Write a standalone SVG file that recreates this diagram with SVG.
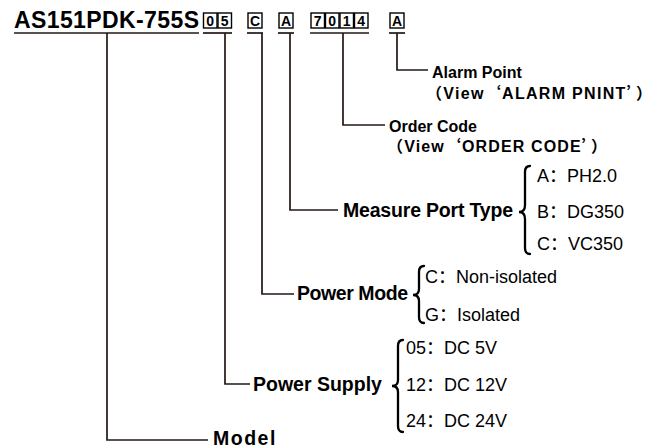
<svg xmlns="http://www.w3.org/2000/svg" width="667" height="448" viewBox="0 0 667 448">
<style>
.t{font-family:"Liberation Sans","Noto Sans CJK SC",Arial,sans-serif;fill:#000}
.b{font-weight:bold}
.lab{font-size:19.5px;font-weight:bold}
.sm{font-size:16px;font-weight:bold}
.opt{font-size:18px}
.cj{font-family:"Noto Sans CJK SC",sans-serif}
.ln{stroke:#231815;stroke-width:1.7;fill:none}
.br{stroke:#000;stroke-width:2.3;fill:none;stroke-linecap:round}
.bx{fill:#fff;stroke:#000;stroke-width:1.4}
.bt{font-family:"Liberation Sans",Arial,sans-serif;font-size:14px;font-weight:bold;text-anchor:middle}
</style>
<rect width="667" height="448" fill="#fff"/>
<g id="title">
<text class="t b" x="14" y="28" font-size="23" textLength="185">AS151PDK-755S</text>
<line class="ln" x1="14" y1="33" x2="199" y2="33"/>
</g>
<g id="code-boxes">
<rect class="bx" x="203.5" y="13" width="13.5" height="15"/><text class="t bt" x="210.25" y="26">0</text>
<rect class="bx" x="218" y="13" width="13.5" height="15"/><text class="t bt" x="224.75" y="26">5</text>
<rect class="bx" x="248" y="13" width="14" height="15"/><text class="t bt" x="255" y="26">C</text>
<rect class="bx" x="279" y="13" width="14" height="15"/><text class="t bt" x="286" y="26">A</text>
<rect class="bx" x="311" y="13" width="13.5" height="15"/><text class="t bt" x="317.75" y="26">7</text>
<rect class="bx" x="325.5" y="13" width="13.5" height="15"/><text class="t bt" x="332.25" y="26">0</text>
<rect class="bx" x="340" y="13" width="13.5" height="15"/><text class="t bt" x="346.75" y="26">1</text>
<rect class="bx" x="354.5" y="13" width="13.5" height="15"/><text class="t bt" x="361.25" y="26">4</text>
<rect class="bx" x="390" y="13" width="14" height="15"/><text class="t bt" x="397" y="26">A</text>
<line class="ln" x1="203" y1="33" x2="232" y2="33"/>
<line class="ln" x1="247" y1="33" x2="263" y2="33"/>
<line class="ln" x1="278" y1="33" x2="294" y2="33"/>
<line class="ln" x1="310" y1="33" x2="369" y2="33"/>
<line class="ln" x1="389" y1="33" x2="405" y2="33"/>
</g>
<g id="connectors">
<polyline class="ln" points="397,33 397,70 428,70"/>
<polyline class="ln" points="343,33 343,125 385,125"/>
<polyline class="ln" points="290,33 290,210 338,210"/>
<polyline class="ln" points="262,33 262,294 294,294"/>
<polyline class="ln" points="225,33 225,384 250,384"/>
<polyline class="ln" points="107,33 107,440 208,440"/>
</g>
<g id="alarm-point">
<text class="t sm" x="432" y="78">Alarm Point</text>
<text class="t sm" x="426" y="99" textLength="226">（View<tspan class="cj">‘</tspan>ALARM  PNINT<tspan class="cj">’</tspan>）</text>
</g>
<g id="order-code">
<text class="t sm" x="389" y="132">Order Code</text>
<text class="t sm" x="387" y="152" textLength="220">（View<tspan class="cj">‘</tspan>ORDER CODE<tspan class="cj">’</tspan>）</text>
</g>
<g id="measure-port-type">
<text class="t lab" x="343" y="217" textLength="170">Measure Port Type</text>
<path class="br" d="M530,166 Q525,166 525,172 L525,205 Q525,212 519,212 Q525,212 525,219 L525,248 Q525,254 530,254"/>
<text class="t opt" x="537" y="182">A<tspan class="cj">：</tspan>PH2.0</text>
<text class="t opt" x="537" y="218">B<tspan class="cj">：</tspan>DG350</text>
<text class="t opt" x="537" y="250">C<tspan class="cj">：</tspan>VC350</text>
</g>
<g id="power-mode">
<text class="t lab" x="297" y="300" textLength="111">Power Mode</text>
<path class="br" d="M424,266 Q419,266 419,272 L419,289 Q419,295 413,295 Q419,295 419,301 L419,317 Q419,323 424,323"/>
<text class="t opt" x="425" y="283">C<tspan class="cj">：</tspan>Non-isolated</text>
<text class="t opt" x="425" y="321">G<tspan class="cj">：</tspan>Isolated</text>
</g>
<g id="power-supply">
<text class="t lab" x="253" y="391">Power Supply</text>
<path class="br" d="M403,340 Q398,340 398,346 L398,380 Q398,386 392,386 Q398,386 398,392 L398,426 Q398,432 403,432"/>
<text class="t opt" x="406" y="354">05<tspan class="cj">：</tspan>DC 5V</text>
<text class="t opt" x="406" y="391">12<tspan class="cj">：</tspan>DC 12V</text>
<text class="t opt" x="406" y="427">24<tspan class="cj">：</tspan>DC 24V</text>
</g>
<g id="model">
<text class="t lab" x="213" y="445" letter-spacing="1.5">Model</text>
</g>
</svg>
